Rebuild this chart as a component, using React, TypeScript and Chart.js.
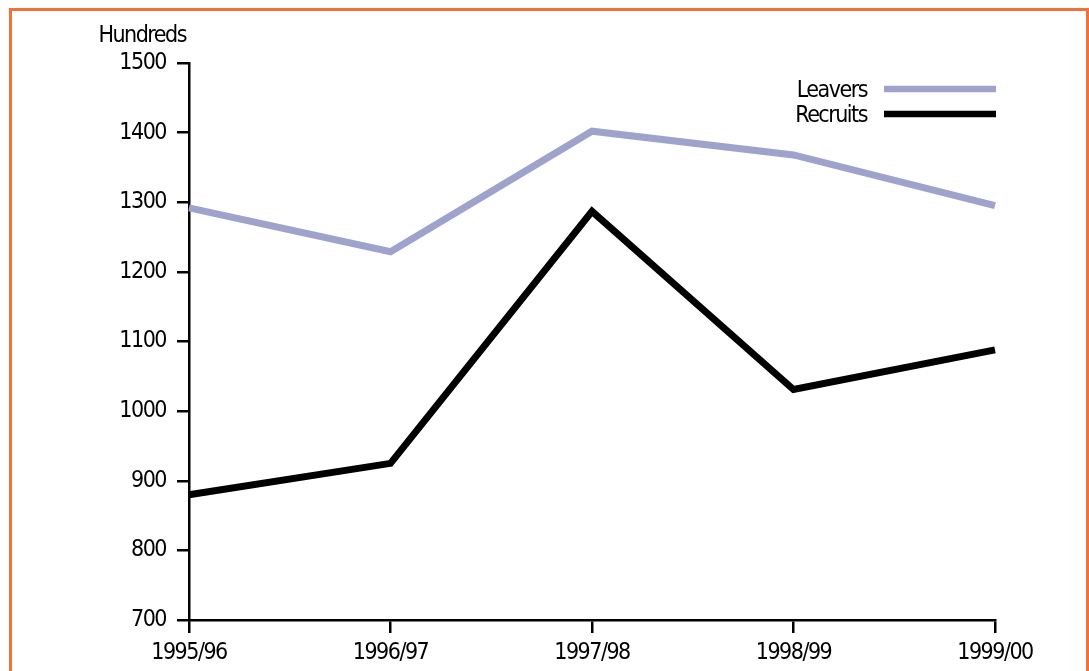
import React, { useEffect, useRef } from "react";
import { Chart, registerables } from "chart.js";

Chart.register(...registerables);

const categories = ["1995/96", "1996/97", "1997/98", "1998/99", "1999/00"];
const leavers = [1292, 1229, 1402, 1368, 1295];
const recruits = [880, 925, 1287, 1031, 1088];
const yMin = 700;
const yMax = 1500;
const yStep = 100;
const unitLabel = "Hundreds";
const seriesNames = ["Leavers", "Recruits"];

const LEAVERS_COLOR = "#9fa3cc";
const RECRUITS_COLOR = "#000000";
const FONT = '"DejaVu Sans Condensed", "Liberation Sans", sans-serif';
const FONT_SIZE = 23;
const LETTER_SPACING = "-1.5px";

const spacingPlugin = {
  id: "spacing",
  beforeDraw(chart: any) {
    chart.ctx.letterSpacing = LETTER_SPACING;
  },
};

const overlayPlugin = {
  id: "overlay",
  afterDraw(chart: any) {
    const ctx = chart.ctx;
    const area = chart.chartArea;
    ctx.save();
    ctx.letterSpacing = LETTER_SPACING;
    ctx.font = `${FONT_SIZE}px ${FONT}`;
    ctx.fillStyle = "#000";
    ctx.textAlign = "right";
    ctx.textBaseline = "alphabetic";
    ctx.fillText(unitLabel, area.left - 3, area.top - 21);
    const colors = [LEAVERS_COLOR, RECRUITS_COLOR];
    const lineStart = area.right - 111;
    const lineEnd = area.right + 1;
    seriesNames.forEach((name, i) => {
      const baseY = area.top + 34 + i * 25;
      ctx.fillStyle = "#000";
      ctx.fillText(name, lineStart - 17, baseY);
      ctx.strokeStyle = colors[i];
      ctx.lineWidth = 6.5;
      ctx.lineCap = "butt";
      ctx.beginPath();
      ctx.moveTo(lineStart, baseY - 8);
      ctx.lineTo(lineEnd, baseY - 8);
      ctx.stroke();
    });
    ctx.restore();
  },
};

export default function App() {
  const canvasRef = useRef<HTMLCanvasElement | null>(null);

  useEffect(() => {
    const canvas = canvasRef.current;
    if (!canvas) return;
    const lineStyle = {
      borderWidth: 7,
      pointRadius: 0,
      tension: 0,
      borderJoinStyle: "miter" as const,
      borderCapStyle: "butt" as const,
      fill: false,
    };
    const chart = new Chart(canvas, {
      type: "line",
      data: {
        labels: categories,
        datasets: [
          { label: seriesNames[0], data: leavers, borderColor: LEAVERS_COLOR, ...lineStyle },
          { label: seriesNames[1], data: recruits, borderColor: RECRUITS_COLOR, ...lineStyle },
        ],
      },
      options: {
        responsive: false,
        animation: false,
        devicePixelRatio: 1,
        layout: { padding: { top: 63, right: 94, left: 0, bottom: 0 } },
        plugins: {
          legend: { display: false },
          tooltip: { enabled: false },
          title: { display: false },
        },
        scales: {
          x: {
            type: "category",
            offset: false,
            afterFit: (scale: any) => {
              scale.height = 51;
            },
            grid: {
              display: true,
              drawOnChartArea: false,
              drawTicks: true,
              tickLength: 13,
              tickColor: "#000",
              tickWidth: 2.5,
              color: "#000",
              lineWidth: 2.5,
            },
            border: { display: true, color: "#000", width: 2.5 },
            ticks: {
              color: "#000",
              padding: 6,
              maxRotation: 0,
              autoSkip: false,
              font: { family: FONT, size: FONT_SIZE },
            },
          },
          y: {
            type: "linear",
            min: yMin,
            max: yMax,
            afterFit: (scale: any) => {
              scale.width = 189;
            },
            grid: {
              display: true,
              drawOnChartArea: false,
              drawTicks: true,
              tickLength: 12,
              tickColor: "#000",
              tickWidth: 2.5,
              color: "#000",
              lineWidth: 2.5,
            },
            border: { display: true, color: "#000", width: 2.5 },
            ticks: {
              stepSize: yStep,
              color: "#000",
              padding: 11,
              font: { family: FONT, size: FONT_SIZE },
              callback: (v: any) => String(v),
            },
          },
        },
      },
      plugins: [spacingPlugin, overlayPlugin],
    });
    return () => chart.destroy();
  }, []);

  return (
    <div
      style={{
        position: "fixed",
        left: 0,
        top: 0,
        width: 1089,
        height: 671,
        overflow: "hidden",
        background: "#fff",
      }}
    >
      <div
        style={{
          position: "absolute",
          left: 9,
          top: 8,
          width: 1080,
          height: 700,
          border: "3px solid #f2703a",
          boxSizing: "border-box",
        }}
      />
      <canvas
        ref={canvasRef}
        width={1089}
        height={671}
        style={{ position: "absolute", left: 0, top: 0, width: 1089, height: 671 }}
      />
    </div>
  );
}
